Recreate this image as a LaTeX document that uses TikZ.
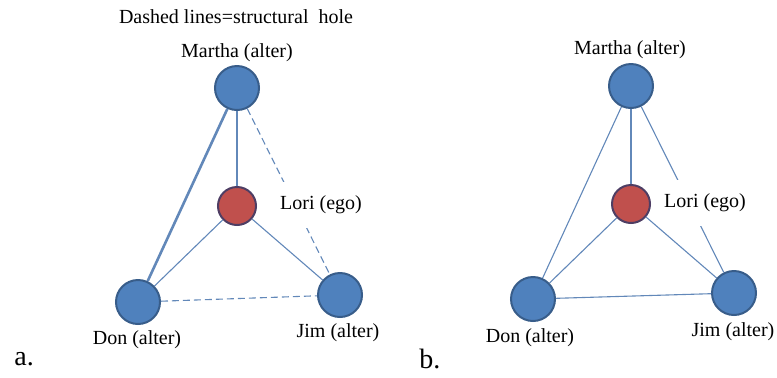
\documentclass[tikz,border=0pt]{standalone}
\usepackage{fontspec}
\setmainfont{Liberation Serif}
\usetikzlibrary{positioning}
\definecolor{nodeblue}{RGB}{79,129,189}
\definecolor{rimblue}{RGB}{56,93,138}
\definecolor{egored}{RGB}{192,80,77}
\definecolor{rimred}{RGB}{78,62,100}
\definecolor{tieblue}{RGB}{98,136,185}

\begin{document}
\begin{tikzpicture}[x=0.5pt,y=-0.5pt,
  alter/.style={circle,fill=nodeblue,draw=rimblue,line width=1pt,minimum size=22pt,inner sep=0pt},
  ego/.style={circle,fill=egored,draw=rimred,line width=1pt,minimum size=19pt,inner sep=0pt},
  tie/.style={draw=tieblue,line width=0.55pt},
  hole/.style={tie,dash pattern=on 3.5pt off 2pt},
  who/.style={font=\fontsize{10}{12}\selectfont,inner sep=1pt},
  egotag/.style={who,fill=white,inner ysep=7pt,inner xsep=2pt}]
  \useasboundingbox (0,0) rectangle (777,377);
  % a: the ego network with structural holes
  \begin{scope}
    \node[alter] (ma) at (237,88) {};
    \node[ego] (lo) at (237,206) {};
    \node[alter] (do) at (138,302) {};
    \node[alter] (ji) at (340,295) {};
    \draw[tie,line width=1.3pt] (ma) -- (do);
    \draw[tie] (ma) -- (lo);
    \draw[tie] (lo) -- (do);
    \draw[tie] (lo) -- (ji);
    \draw[hole] (ma) -- (ji);
    \draw[hole] (do) -- (ji);
    \node[who] (hint) at (236,17) {Dashed lines=structural\ \ hole};
    \node[who] (mal) at (237,53) {Martha (alter)};
    \node[egotag] (lol) at (321,205) {Lori (ego)};
    \node[who] (dol) at (137,340) {Don (alter)};
    \node[who] (jil) at (338,333) {Jim (alter)};
    \node[font=\fontsize{14}{16}\selectfont,anchor=west,inner sep=0pt] (pa) at (14,359) {a.};
  \end{scope}
  % b: the same people, every tie closed
  \begin{scope}[shift={(390,0)}]
    \node[alter] (ma) at (241,86) {};
    \node[ego] (lo) at (241,204) {};
    \node[alter] (do) at (143,299) {};
    \node[alter] (ji) at (344,293) {};
    \draw[tie] (ma) -- (do);
    \draw[tie] (ma) -- (lo);
    \draw[tie] (lo) -- (do);
    \draw[tie] (lo) -- (ji);
    \draw[tie] (ma) -- (ji);
    \draw[tie] (do) -- (ji);
    \node[who] (mal) at (240,50) {Martha (alter)};
    \node[egotag] (lol) at (315,203) {Lori (ego)};
    \node[who] (dol) at (140,338) {Don (alter)};
    \node[who] (jil) at (343,332) {Jim (alter)};
    \node[font=\fontsize{14}{16}\selectfont,anchor=west,inner sep=0pt] (pb) at (29,359) {b.};
  \end{scope}
\end{tikzpicture}
\end{document}
